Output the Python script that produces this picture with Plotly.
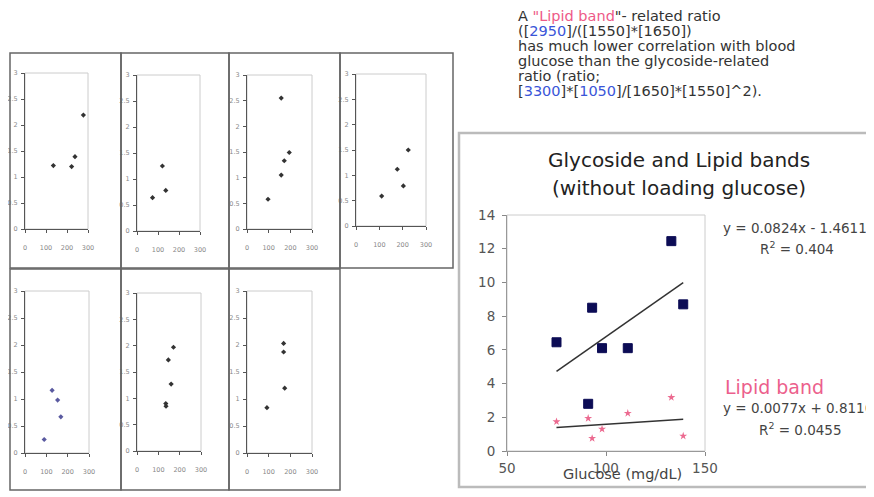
import plotly.graph_objects as go

W, H = 874, 497
OFF = 8  # page body margin offset in the browser

# ---------------- data ----------------
glucose = [75, 91, 93, 98, 111, 133, 139]
glycoside_ratio = [6.45, 2.8, 8.5, 6.1, 6.1, 12.45, 8.7]
lipid_ratio = [1.74, 1.94, 0.75, 1.3, 2.24, 3.18, 0.89]
glyco_slope, glyco_intercept = 0.0824, -1.4611
lipid_slope, lipid_intercept = 0.0077, 0.8116

main_xticks = [50, 100, 150]
main_yticks = [0, 2, 4, 6, 8, 10, 12, 14]

small_x = [
    [135, 222, 238, 278],
    [74, 121, 137],
    [97, 158, 172, 158, 195],
    [110, 177, 203, 224],
    [90, 127, 153, 168],
    [135, 136, 147, 160, 171],
    [92, 169, 169, 174],
]
small_y = [
    [1.22, 1.20, 1.39, 2.19],
    [0.64, 1.25, 0.78],
    [0.58, 2.55, 1.33, 1.05, 1.49],
    [0.59, 1.12, 0.79, 1.5],
    [0.25, 1.16, 0.98, 0.67],
    [0.90, 0.85, 1.73, 1.27, 1.97],
    [0.84, 2.03, 1.87, 1.20],
]
small_xticks = [0, 100, 200, 300]
small_yticks = [0, 0.5, 1, 1.5, 2, 2.5, 3]

# ---------------- layout helpers ----------------
def px(x):
    return (x - OFF) / W

def py(y):
    return 1 - (y - OFF) / H

def xd(a, b):
    return [px(a), px(b)]

def yd(top, bottom):
    return [py(bottom), py(top)]

FONT = "DejaVu Sans"

frames = [
    (25, 88, 73, 229), (137, 200, 75, 231), (247, 312, 75, 229), (356, 426, 74, 226),
    (25, 89, 291, 453), (137, 201, 293, 451), (247, 312, 291, 453),
]
boxes = [
    (10, 121, 53, 268), (121, 229, 53, 268), (229, 340, 53, 268), (340, 453, 53, 268),
    (10, 121, 269, 490), (121, 229, 269, 490), (229, 340, 269, 490),
]
small_colors = ["#333", "#333", "#333", "#333", "#5a5aa0", "#333", "#333"]

fig = go.Figure()
layout = dict(
    width=W, height=H, autosize=False,
    margin=dict(l=0, r=0, t=0, b=0, pad=0, autoexpand=False),
    paper_bgcolor="white", plot_bgcolor="white",
    showlegend=False,
    font=dict(family=FONT, color="#333"),
)
shapes = []
annotations = []

for i, (fr, bx) in enumerate(zip(frames, boxes)):
    n = i + 1
    xa = "xaxis" if n == 1 else f"xaxis{n}"
    ya = "yaxis" if n == 1 else f"yaxis{n}"
    xr = "x" if n == 1 else f"x{n}"
    yr = "y" if n == 1 else f"y{n}"
    layout[xa] = dict(
        domain=xd(fr[0], fr[1]), anchor=yr, range=[0, 300],
        tickvals=small_xticks, ticks="outside", ticklen=3, tickcolor="#555",
        showline=True, linecolor="#555", linewidth=1, showgrid=False, zeroline=False,
        tickfont=dict(size=6.5, color="#888"), ticklabelstandoff=9, automargin=False,
    )
    layout[ya] = dict(
        domain=yd(fr[2], fr[3]), anchor=xr, range=[0, 3],
        tickvals=small_yticks, ticks="outside", ticklen=3, tickcolor="#555",
        showline=True, linecolor="#555", linewidth=1, showgrid=False, zeroline=False,
        tickfont=dict(size=6.5, color="#888"), ticklabelstandoff=2, automargin=False,
    )
    fig.add_trace(go.Scatter(
        x=small_x[i], y=small_y[i], mode="markers", xaxis=xr, yaxis=yr,
        marker=dict(symbol="diamond", size=4, color=small_colors[i]),
        cliponaxis=False,
    ))
    shapes.append(dict(type="rect", xref=f"{xr} domain", yref=f"{yr} domain",
                       x0=0, x1=1, y0=0, y1=1, line=dict(color="#ccc", width=1), layer="below"))
    shapes.append(dict(type="rect", xref="paper", yref="paper",
                       x0=px(bx[0]), x1=px(bx[1]), y0=py(bx[3]), y1=py(bx[2]),
                       line=dict(color="#666", width=1.5)))

# ---------------- main chart ----------------
layout["xaxis8"] = dict(
    domain=xd(507, 705), anchor="y8", range=[50, 150],
    tickvals=main_xticks, ticks="outside", ticklen=4, tickcolor="#888",
    showline=True, linecolor="#999", linewidth=1, showgrid=False, zeroline=False,
    tickfont=dict(size=13.5, color="#555", family=FONT), ticklabelstandoff=1, automargin=False,
)
layout["yaxis8"] = dict(
    domain=yd(215, 451), anchor="x8", range=[0, 14],
    tickvals=main_yticks, ticks="outside", ticklen=4, tickcolor="#888",
    showline=True, linecolor="#999", linewidth=1, showgrid=False, zeroline=False,
    tickfont=dict(size=13.5, color="#555", family=FONT), ticklabelstandoff=4, automargin=False,
)
shapes.append(dict(type="rect", xref="x8 domain", yref="y8 domain",
                   x0=0, x1=1, y0=0, y1=1, line=dict(color="#ccc", width=1), layer="below"))
shapes.append(dict(type="rect", xref="paper", yref="paper",
                   x0=px(459), x1=px(890), y0=py(487), y1=py(133),
                   line=dict(color="#bbb", width=2.5)))

xmin, xmax = min(glucose), max(glucose)
fig.add_trace(go.Scatter(
    x=[xmin, xmax], y=[glyco_slope * xmin + glyco_intercept, glyco_slope * xmax + glyco_intercept],
    mode="lines", line=dict(color="#333", width=1.5), xaxis="x8", yaxis="y8"))
fig.add_trace(go.Scatter(
    x=[xmin, xmax], y=[lipid_slope * xmin + lipid_intercept, lipid_slope * xmax + lipid_intercept],
    mode="lines", line=dict(color="#333", width=1.5), xaxis="x8", yaxis="y8"))
fig.add_trace(go.Scatter(
    x=glucose, y=glycoside_ratio, mode="markers", xaxis="x8", yaxis="y8",
    marker=dict(symbol="square", size=9, color="#0c0c55", line=dict(color="#0c0c55", width=1))))
fig.add_trace(go.Scatter(
    x=glucose, y=lipid_ratio, mode="markers", xaxis="x8", yaxis="y8",
    marker=dict(symbol="star", size=6, color="#ec6a90")))

def ann(text, x, y, size, color="#333", xanchor="center"):
    annotations.append(dict(text=text, x=px(x), y=py(y), xref="paper", yref="paper",
                            xanchor=xanchor, yanchor="middle", showarrow=False, borderpad=0,
                            font=dict(size=size, color=color, family=FONT)))

ann("Glycoside and Lipid bands", 679, 160, 20, "#222")
ann("(without loading glucose)", 679, 188, 20, "#222")
ann("Glucose (mg/dL)", 622, 474, 14.5, "#444")
ann("y = 0.0824x - 1.4611", 722, 228, 13.5, "#444", "left")
ann("R<sup>2</sup> = 0.404", 797, 248, 13.5, "#444")
ann("Lipid band", 774, 387, 19, "#ec5f8c")
ann("y = 0.0077x + 0.8116", 722, 408, 13.5, "#444", "left")
ann("R<sup>2</sup> = 0.0455", 800, 429, 13.5, "#444")

BLUE = "#3a55d8"
PINK = "#ee5a88"
top_lines = [
    f'A <span style="color:{PINK}">"Lipid band</span>"- related ratio',
    f'([<span style="color:{BLUE}">2950</span>]/([1550]*[1650])',
    "has much lower correlation with blood",
    "glucose than the glycoside-related",
    "ratio (ratio;",
    f'[<span style="color:{BLUE}">3300</span>]*[<span style="color:{BLUE}">1050</span>]/[1650]*[1550]^2).',
]
for k, line in enumerate(top_lines):
    ann(line, 517, 16 + 15 * k, 14.5, "#333", "left")

layout["shapes"] = shapes
layout["annotations"] = annotations
fig.update_layout(**layout)
fig.write_html("out.html")
